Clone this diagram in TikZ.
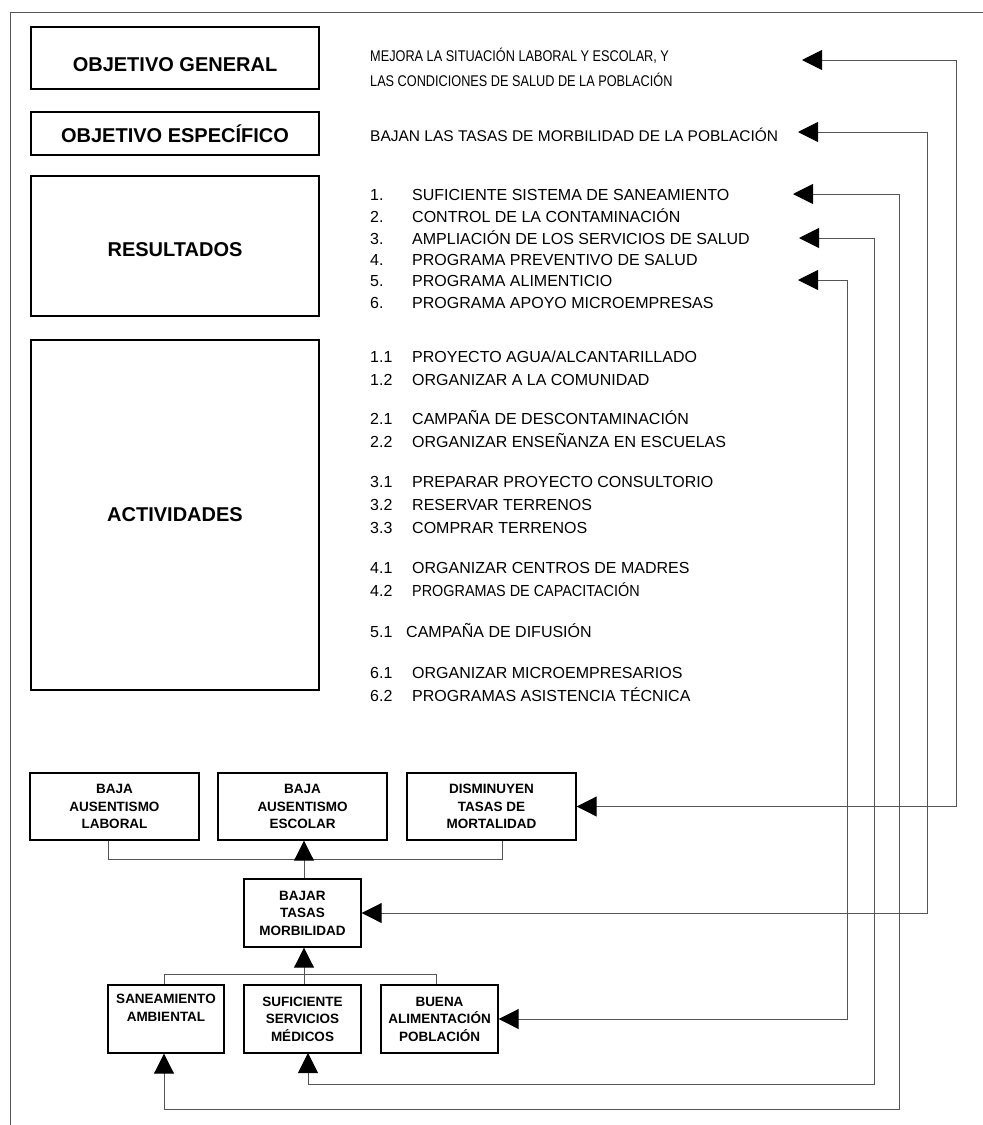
\documentclass[tikz,border=0pt]{standalone}
\usepackage{fontspec}
\setmainfont{Liberation Sans}
\newfontfamily\narrowsans[FakeStretch=0.82]{Liberation Sans}
\newfontfamily\semisans[FakeStretch=0.9]{Liberation Sans}
\usetikzlibrary{arrows.meta}
\definecolor{linegray}{HTML}{555555}
\begin{document}
\begin{tikzpicture}[x=1pt,y=-1pt,
  box/.style={draw=black,line width=1.4pt,fill=white,inner sep=0pt,align=center},
  hdr/.style={font=\bfseries\fontsize{20}{24}\selectfont},
  small/.style={font=\bfseries\fontsize{13.5}{17.5}\selectfont},
  txt/.style={anchor=base west,inner sep=0pt,font=\fontsize{16}{19}\selectfont},
  narrow/.style={anchor=base west,inner sep=0pt,font=\narrowsans\fontsize{15.5}{19}\selectfont},
  semi/.style={anchor=base west,inner sep=0pt,font=\semisans\fontsize{16}{19}\selectfont},
  link/.style={draw=linegray,line width=1pt},
  tip/.style={-{Triangle[length=20pt,width=20pt,black]}},
  twotip/.style={{Triangle[length=20pt,width=20pt,black]}-{Triangle[length=20pt,width=20pt,black]}},
]
\useasboundingbox (0,0) rectangle (983,1125);

% page frame (top and left rules)
\draw[link] (10,1125) -- (10,12) -- (983,12);

% left-hand category boxes
\node[box,minimum width=288pt,minimum height=62pt] (og) at (175,58) {};
\node[hdr] (ogl) at (175,65) {OBJETIVO GENERAL};
\node[box,hdr,minimum width=288pt,minimum height=43pt] (oe) at (175,133.5) {OBJETIVO ESPECÍFICO};
\node[box,minimum width=288pt,minimum height=140pt] (res) at (175,246) {};
\node[hdr] (resl) at (175,250) {RESULTADOS};
\node[box,hdr,minimum width=288pt,minimum height=350pt] (act) at (175,515) {ACTIVIDADES};

% objective texts
\node[narrow] (ogt1) at (370,61) {MEJORA LA SITUACIÓN LABORAL Y ESCOLAR, Y};
\node[narrow] (ogt2) at (370,86) {LAS CONDICIONES DE SALUD DE LA POBLACIÓN};
\node[txt,font=\fontsize{15.5}{19}\selectfont] (oet) at (370,141) {BAJAN LAS TASAS DE MORBILIDAD DE LA POBLACIÓN};

% results list
\foreach \n/\y/\t in {1/200/SUFICIENTE SISTEMA DE SANEAMIENTO,
                      2/222/CONTROL DE LA CONTAMINACIÓN,
                      3/244/AMPLIACIÓN DE LOS SERVICIOS DE SALUD,
                      4/265/PROGRAMA PREVENTIVO DE SALUD,
                      5/286/PROGRAMA ALIMENTICIO,
                      6/308/PROGRAMA APOYO MICROEMPRESAS}{
  \node[txt] (rn\n) at (370,\y) {\n.};
  \node[txt] (rt\n) at (412,\y) {\t};
}

% activities list
\foreach \k/\n/\y/\t in {a/1.1/362/{PROYECTO AGUA/ALCANTARILLADO},
                         b/1.2/385/ORGANIZAR A LA COMUNIDAD,
                         c/2.1/424/CAMPAÑA DE DESCONTAMINACIÓN,
                         d/2.2/447/ORGANIZAR ENSEÑANZA EN ESCUELAS,
                         e/3.1/487/PREPARAR PROYECTO CONSULTORIO,
                         f/3.2/510/RESERVAR TERRENOS,
                         g/3.3/533/COMPRAR TERRENOS,
                         h/4.1/573/ORGANIZAR CENTROS DE MADRES,
                         j/6.1/678/ORGANIZAR MICROEMPRESARIOS,
                         k/6.2/701/PROGRAMAS ASISTENCIA TÉCNICA}{
  \node[txt] (an\k) at (370,\y) {\n};
  \node[txt] (at\k) at (412,\y) {\t};
}
\node[txt] (an42) at (370,596) {4.2};
\node[semi] (at42) at (412,596) {PROGRAMAS DE CAPACITACIÓN};
\node[txt] (an51) at (370,637) {5.1};
\node[txt] (at51) at (406,637) {CAMPAÑA DE DIFUSIÓN};

% objective tree
\node[box,small,minimum width=169pt,minimum height=67pt] (blab) at (114.5,806.5) {BAJA\\AUSENTISMO\\LABORAL};
\node[box,small,minimum width=169pt,minimum height=67pt] (besc) at (302.5,806.5) {BAJA\\AUSENTISMO\\ESCOLAR};
\node[box,small,minimum width=169pt,minimum height=67pt] (dism) at (491.5,806.5) {DISMINUYEN\\TASAS DE\\MORTALIDAD};
\node[box,small,minimum width=117pt,minimum height=68pt] (bajar) at (302.5,913) {BAJAR\\TASAS\\MORBILIDAD};
\node[box,small,minimum width=116pt,minimum height=68pt] (san) at (166,1019) {SANEAMIENTO\\AMBIENTAL\\\strut};
\node[box,small,minimum width=117pt,minimum height=68pt] (suf) at (302.5,1019) {SUFICIENTE\\SERVICIOS\\MÉDICOS};
\node[box,small,minimum width=117pt,minimum height=68pt] (bue) at (439.5,1019) {BUENA\\ALIMENTACIÓN\\POBLACIÓN};

% junction lines of the tree
\coordinate (jtop) at (304,859);
\coordinate (jbot) at (304,974);
\draw[link] (blab.south -| 108,0) |- (jtop) -| (dism.south -| 502,0);
\draw[link,tip] (bajar.north -| jtop) -- (besc.south -| jtop);
\draw[link] (san.north -| 164,0) |- (jbot) -| (bue.north -| 436,0);
\draw[link,tip] (suf.north -| jbot) -- (bajar.south -| jbot);

% feedback arrows from the tree to the text column
\coordinate (pog) at (802,60);
\coordinate (poe) at (798,132);
\coordinate (pr1) at (793,194);
\coordinate (pr3) at (799,238);
\coordinate (pr5) at (798,280);
\draw[link,twotip] (pog) -- (956,60) |- (dism.east);
\draw[link,twotip] (poe) -- (927,132) |- (bajar.east);
\draw[link,twotip] (pr5) -- (847,280) |- (bue.east);
\draw[link,twotip] (pr3) -- (874,238) -- (874,1084) -| (308,1053);
\draw[link,twotip] (pr1) -- (899,194) -- (899,1109) -| (san.south -| 164,0);
\end{tikzpicture}
\end{document}
